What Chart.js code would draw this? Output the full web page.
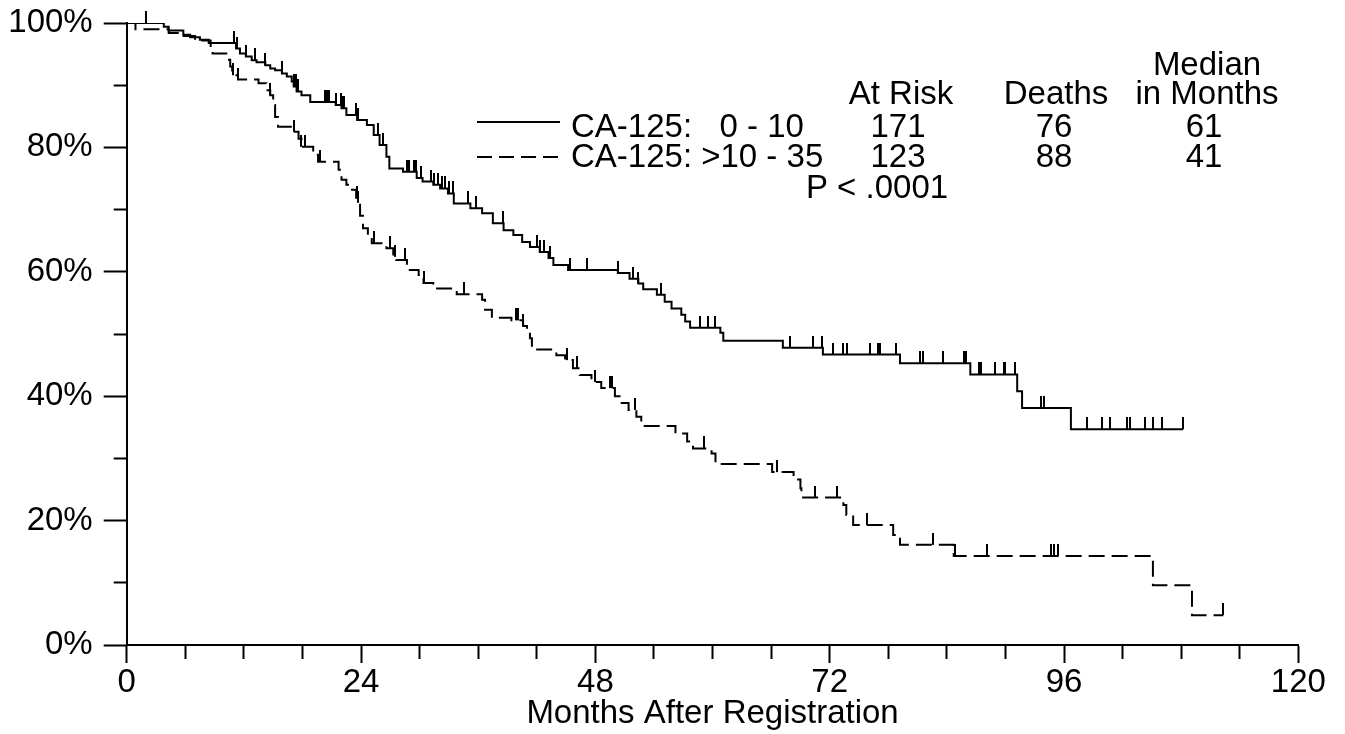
<!DOCTYPE html>
<html>
<head>
<meta charset="utf-8">
<script src="https://cdn.jsdelivr.net/npm/chart.js@4/dist/chart.umd.min.js"></script>
<style>
  html, body { margin: 0; padding: 0; background: #fff; }
  canvas { display: block; }
</style>
</head>
<body>
<canvas id="km" width="1345" height="734"></canvas>
<script>
// Kaplan-Meier curves (months -> % surviving)
const lowMonths = [0, 3.8, 4.3, 5.8, 6.5, 7.5, 8.4, 11.2, 11.6, 12.2, 12.8, 13.3, 14.2, 14.7, 15.2, 15.9,
  16.4, 16.9, 17.1, 17.4, 17.9, 18.8, 21.4, 22.0, 22.5, 23.6, 24.6, 25.3, 25.9, 26.6, 26.9, 28.3, 29.7,
  30.3, 31.4, 32.1, 32.9, 33.5, 35.2, 36.4, 37.5, 38.6, 39.6, 40.5, 41.3, 42.3, 43.2, 43.7, 45.2, 50.3,
  51.5, 52.4, 52.9, 54.3, 55.1, 55.8, 56.8, 57.2, 57.7, 60.8, 61.1, 67.2, 71.3, 79.2, 86.4, 91.2, 91.7,
  96.7, 108.2];
const lowSurv = [100, 99.4, 98.8, 98.1, 97.7, 97.3, 96.8, 95.9, 95.1, 94.6, 94.0, 93.7, 93.2, 92.7, 92.4, 91.9,
  91.4, 90.6, 89.8, 89.0, 88.4, 87.3, 86.8, 86.3, 85.2, 84.4, 83.6, 82.0, 80.4, 78.5, 76.6, 76.1, 75.1,
  74.5, 74.0, 73.4, 72.6, 71.0, 70.2, 69.4, 67.8, 66.7, 65.9, 64.8, 64.0, 63.2, 62.2, 61.1, 60.3, 59.8,
  58.9, 58.1, 57.2, 56.3, 55.2, 54.1, 53.1, 52.0, 51.0, 50.2, 48.9, 47.8, 46.7, 45.3, 43.5, 40.8, 38.1,
  34.7, 34.7];
const lowCensored = [2.0, 11.0, 11.3, 12.2, 13.1, 14.2, 15.9, 17.1, 17.3, 17.5, 20.3, 20.5, 20.7, 21.4, 21.9,
  22.1, 22.3, 23.5, 23.7, 25.7, 26.2, 28.7, 28.9, 29.4, 29.6, 30.1, 31.2, 31.5, 31.9, 32.3, 32.6, 33.0,
  33.4, 35.0, 35.8, 38.5, 42.0, 42.3, 42.7, 43.4, 45.4, 47.1, 50.3, 51.9, 52.4, 54.7, 58.7, 59.5, 60.2,
  67.9, 70.3, 71.2, 72.3, 73.4, 73.8, 76.1, 76.9, 77.1, 78.8, 81.2, 81.6, 83.6, 85.8, 86.0, 87.3, 87.5,
  88.9, 89.8, 90.0, 91.0, 93.6, 93.9, 98.3, 99.9, 100.7, 102.4, 102.8, 104.3, 105.1, 106.0, 108.2];

const highMonths = [0, 0.9, 4.3, 5.5, 7.0, 8.6, 8.8, 10.2, 10.6, 10.8, 11.4, 13.5, 14.3, 14.7, 15.0, 15.2,
  15.5, 17.1, 17.6, 17.9, 19.1, 19.6, 21.7, 22.0, 22.5, 22.9, 23.5, 23.7, 23.9, 24.2, 24.7, 25.1, 26.6,
  27.3, 27.6, 28.7, 29.9, 30.4, 31.4, 33.8, 36.4, 36.7, 37.4, 39.4, 40.6, 41.0, 41.3, 41.5, 44.0, 44.9,
  45.7, 46.4, 47.6, 48.6, 50.0, 50.7, 51.4, 52.2, 52.7, 56.2, 57.4, 58.0, 59.9, 60.3, 66.1, 68.3, 69.0,
  69.1, 73.4, 73.7, 74.4, 78.5, 79.2, 84.7, 105.1, 109.1, 112.3];
const highSurv = [100, 99.0, 98.4, 97.9, 97.2, 95.9, 95.1, 94.1, 93.0, 91.6, 90.9, 90.3, 89.2, 88.4, 86.8, 84.9,
  83.3, 82.5, 81.4, 80.1, 78.8, 77.7, 76.4, 74.8, 74.0, 73.2, 71.9, 71.1, 69.0, 67.0, 65.6, 64.6, 63.8,
  62.4, 61.9, 60.3, 59.5, 58.2, 57.3, 56.4, 55.5, 53.9, 52.6, 52.2, 51.3, 50.6, 49.3, 47.5, 46.6, 45.8,
  44.5, 43.4, 42.3, 41.3, 40.0, 38.9, 37.8, 36.7, 35.2, 34.0, 32.7, 31.6, 30.8, 29.1, 27.8, 26.6, 25.2,
  23.7, 22.5, 20.9, 19.3, 17.7, 16.1, 14.3, 9.6, 4.8, 4.8];
const highCensored = [10.9, 11.4, 14.7, 17.1, 17.9, 18.3, 19.8, 23.6, 23.7, 25.3, 27.0, 27.5, 28.5, 30.4,
  34.5, 39.9, 40.1, 40.6, 45.1, 46.1, 48.0, 49.5, 49.7, 52.1, 59.1, 66.6, 70.5, 72.7, 75.8, 82.6, 84.8,
  88.1, 94.7, 95.0, 95.4, 112.3];

const xTicks = [0, 24, 48, 72, 96, 120];
const yTicks = [0, 20, 40, 60, 80, 100];

// table in the upper right
const groupNames = ['CA-125:   0 - 10', 'CA-125: >10 - 35'];
const atRisk = [171, 123];
const deaths = [76, 88];
const medianMonths = [61, 41];
const pText = 'P < .0001';

const FONT = '"Liberation Sans", Arial, Helvetica, sans-serif';
Chart.defaults.font.family = FONT;
Chart.defaults.font.size = 33;
Chart.defaults.color = '#000';

const toPoints = (xs, ys) => xs.map((x, i) => ({x: x, y: ys[i]}));

// survival at time t on a step curve
function survAt(xs, ys, t) {
  let s = ys[0];
  for (let i = 0; i < xs.length; i++) {
    if (xs[i] <= t) s = ys[i];
  }
  return s;
}
const censorPoints = (times, xs, ys) => times.map(t => ({x: t, y: survAt(xs, ys, t)}));

// little vertical tick sitting on top of the curve
function censorMark(h) {
  const c = document.createElement('canvas');
  c.width = 2;
  c.height = h * 2;
  const g = c.getContext('2d');
  g.fillStyle = '#000';
  g.fillRect(0, 0, 2, h);
  return c;
}
const mark = censorMark(12);

const tableText = {
  id: 'tableText',
  afterDraw(chart) {
    const ctx = chart.ctx;
    ctx.save();
    ctx.strokeStyle = '#000';
    ctx.lineWidth = 2;
    // legend samples
    ctx.beginPath();
    ctx.moveTo(477, 122);
    ctx.lineTo(560, 122);
    ctx.stroke();
    ctx.setLineDash([15, 7]);
    ctx.beginPath();
    ctx.moveTo(477, 157);
    ctx.lineTo(560, 157);
    ctx.stroke();
    ctx.setLineDash([]);

    ctx.fillStyle = '#000';
    ctx.font = '33px ' + FONT;
    ctx.textBaseline = 'alphabetic';
    ctx.textAlign = 'left';
    ctx.fillText(groupNames[0], 571, 137);
    ctx.fillText(groupNames[1], 571, 167);

    ctx.textAlign = 'center';
    ctx.fillText('Median', 1207, 75);
    ctx.fillText('At Risk', 901, 104);
    ctx.fillText('Deaths', 1056, 104);
    ctx.fillText('in Months', 1207, 104);
    for (let i = 0; i < 2; i++) {
      const y = 137 + i * 30;
      ctx.fillText(String(atRisk[i]), 898, y);
      ctx.fillText(String(deaths[i]), 1054, y);
      ctx.fillText(String(medianMonths[i]), 1204, y);
    }
    ctx.fillText(pText, 877, 198);
    ctx.restore();
  }
};

new Chart(document.getElementById('km'), {
  type: 'line',
  data: {
    datasets: [
      {
        data: toPoints(lowMonths, lowSurv),
        stepped: true,
        borderColor: '#000',
        borderWidth: 2,
        pointRadius: 0,
        fill: false
      },
      {
        data: toPoints(highMonths, highSurv),
        stepped: true,
        borderColor: '#000',
        borderWidth: 2,
        borderDash: [16, 7],
        pointRadius: 0,
        fill: false
      },
      {
        type: 'scatter',
        data: censorPoints(lowCensored, lowMonths, lowSurv),
        pointStyle: mark,
        pointRadius: 3,
        clip: false
      },
      {
        type: 'scatter',
        data: censorPoints(highCensored, highMonths, highSurv),
        pointStyle: mark,
        pointRadius: 3,
        clip: false
      }
    ]
  },
  options: {
    responsive: false,
    animation: false,
    layout: { padding: { top: 23, right: 46.6, left: 0, bottom: 0 } },
    plugins: {
      legend: { display: false },
      tooltip: { enabled: false }
    },
    scales: {
      x: {
        type: 'linear',
        min: 0,
        max: 120,
        afterFit: s => { s.height = 89; },
        border: { display: true, color: '#000', width: 2 },
        grid: {
          drawOnChartArea: false,
          tickLength: 18,
          tickColor: '#000',
          tickWidth: 2,
          tickBorderDash: c => xTicks.includes(c.tick.value) ? [] : [13, 40]
        },
        ticks: {
          stepSize: 6,
          autoSkip: false,
          maxRotation: 0,
          padding: 0,
          callback: v => xTicks.includes(v) ? String(v) : ''
        },
        title: {
          display: true,
          text: 'Months After Registration',
          padding: { top: 0, bottom: 0 }
        }
      },
      y: {
        min: 0,
        max: 100,
        afterFit: s => { s.width = 126.7; },
        border: { display: true, color: '#000', width: 2 },
        grid: {
          drawOnChartArea: false,
          tickLength: 23,
          tickColor: '#000',
          tickWidth: 2,
          tickBorderDash: c => yTicks.includes(c.tick.value) ? [] : [0, 10, 13, 60]
        },
        ticks: {
          stepSize: 10,
          autoSkip: false,
          padding: 11,
          font: { lineHeight: 0.7 },
          callback: v => yTicks.includes(v) ? v + '%' : ''
        }
      }
    }
  },
  plugins: [tableText]
});
</script>
</body>
</html>
